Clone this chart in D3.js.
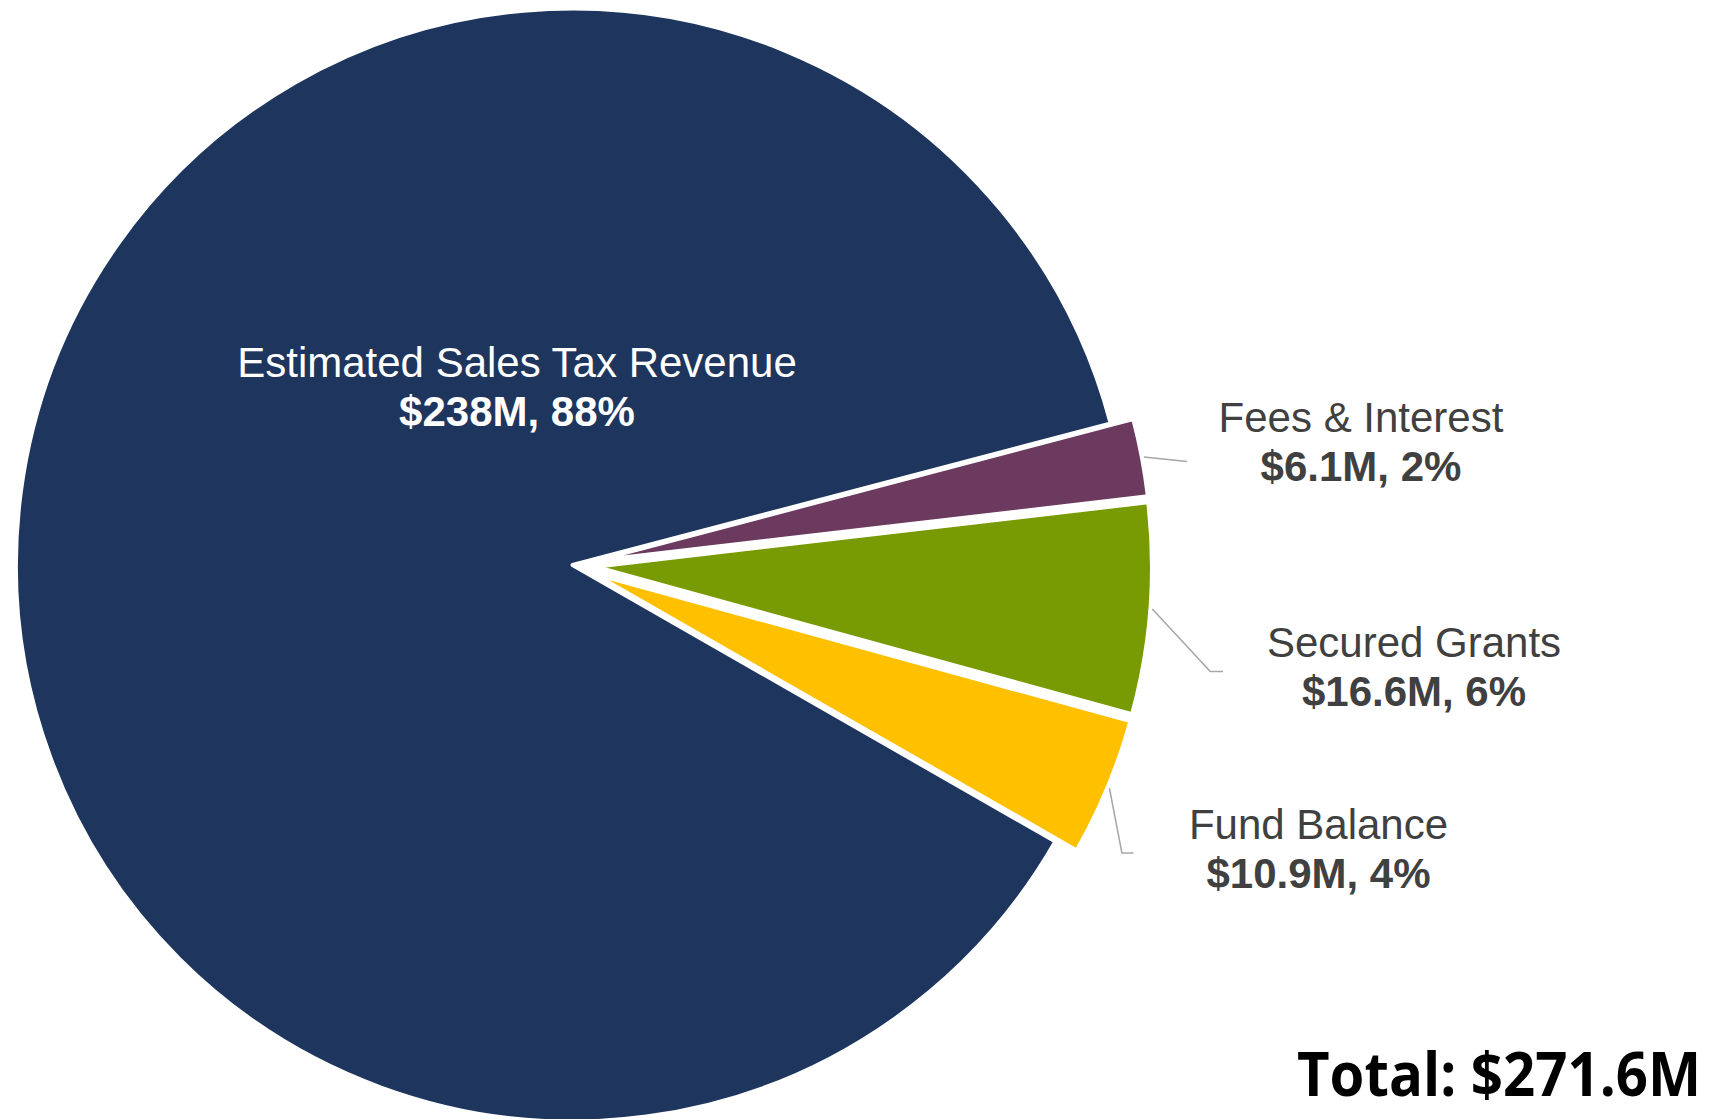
<!DOCTYPE html>
<html>
<head>
<meta charset="utf-8">
<script src="https://cdn.jsdelivr.net/npm/d3@7"></script>
<style>
  body { margin: 0; background: #fff; }
  svg { display: block; }
</style>
</head>
<body>
<script>
// data ($ millions)
const categories = ["Estimated Sales Tax Revenue", "Fees & Interest", "Secured Grants", "Fund Balance"];
const amounts = [238.0, 6.1, 16.6, 10.9];
const amountLabels = ["$238M", "$6.1M", "$16.6M", "$10.9M"];
const percentLabels = ["88%", "2%", "6%", "4%"];
const totalLabel = "Total: $271.6M";
const colors = ["#1e355e", "#6b3a5e", "#789a03", "#ffc000"];

// layout
const width = 1728, height = 1119;
const cx = 572.5, cy = 565, R = 556.5;
const explode = [0, 23, 23, 23];
const startAngle = 119.8 * Math.PI / 180;
// label centre x, first baseline y, leader end offset from label, short horizontal tail
const labelPlace = [
  { x: 517, y: 377, inside: true },
  { x: 1361, y: 432, end: [-174, 29.5], tail: 0 },
  { x: 1414, y: 657, end: [-191, 14.5], tail: 12.7 },
  { x: 1318.5, y: 839, end: [-185, 14], tail: 11.6 }
];

const svg = d3.select("body").append("svg")
    .attr("width", width)
    .attr("height", height);

const pie = d3.pie()
    .sort(null)
    .value(d => d)
    .startAngle(startAngle)
    .endAngle(startAngle + 2 * Math.PI);

const arcs = pie(amounts);
const arc = d3.arc().innerRadius(0).outerRadius(R);

function offset(a, i) {
  const mid = (a.startAngle + a.endAngle) / 2;
  return [cx + explode[i] * Math.sin(mid), cy - explode[i] * Math.cos(mid)];
}

const g = svg.append("g");

g.selectAll("path.slice")
  .data(arcs)
  .enter().append("path")
    .attr("class", "slice")
    .attr("transform", (d, i) => "translate(" + offset(d, i) + ")")
    .attr("d", arc)
    .attr("fill", (d, i) => colors[i])
    .attr("stroke", "#fff")
    .attr("stroke-width", 4)
    .attr("stroke-linejoin", "round");

// leader lines for the outside labels
const leaders = arcs.map((a, i) => {
  const p = labelPlace[i];
  if (p.inside) return null;
  const c = offset(a, i);
  const mid = (a.startAngle + a.endAngle) / 2;
  const sx = c[0] + (R + 2) * Math.sin(mid);
  const sy = c[1] - (R + 2) * Math.cos(mid);
  const ex = p.x + p.end[0], ey = p.y + p.end[1];
  return [[sx, sy], [ex - p.tail, ey], [ex, ey]];
}).filter(d => d);

svg.append("g").selectAll("path")
  .data(leaders)
  .enter().append("path")
    .attr("d", d3.line())
    .attr("fill", "none")
    .attr("stroke", "#a6a6a6")
    .attr("stroke-width", 1.5);

// slice labels
const labels = svg.append("g")
    .attr("font-family", "'Liberation Sans', Arial, sans-serif")
    .attr("font-size", 42)
    .attr("text-anchor", "middle");

arcs.forEach((a, i) => {
  const p = labelPlace[i];
  const fill = p.inside ? "#ffffff" : "#404040";
  const t = labels.append("text").attr("fill", fill);
  t.append("tspan")
    .attr("x", p.x).attr("y", p.y)
    .text(categories[i]);
  t.append("tspan")
    .attr("x", p.x).attr("y", p.y + 49)
    .attr("font-weight", "bold")
    .text(amountLabels[i] + ", " + percentLabels[i]);
});

svg.append("text")
    .attr("x", 1701)
    .attr("y", 1096)
    .attr("text-anchor", "end")
    .attr("font-family", "'Open Sans', 'Noto Sans', sans-serif")
    .attr("font-weight", 700)
    .attr("font-size", 60)
    .attr("textLength", 404)
    .attr("lengthAdjust", "spacingAndGlyphs")
    .attr("fill", "#000")
    .text(totalLabel);
</script>
</body>
</html>
